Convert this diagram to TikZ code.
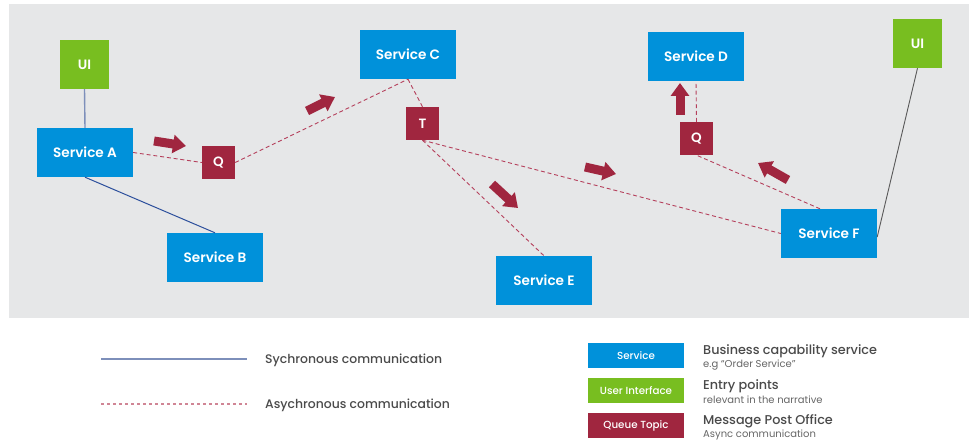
\documentclass[tikz,border=0pt]{standalone}
\usepackage{fontspec}
\setmainfont{Poppins}
\newfontfamily\semibold{Poppins SemiBold}
\newfontfamily\medium{Poppins Medium}
\usetikzlibrary{arrows.meta}

\definecolor{panel}{HTML}{E6E7E8}
\definecolor{svcblue}{HTML}{0091DA}
\definecolor{uigreen}{HTML}{78BE20}
\definecolor{queuered}{HTML}{A0263F}
\definecolor{asyncline}{HTML}{B5405C}
\definecolor{asynclegend}{HTML}{D08595}
\definecolor{synclight}{HTML}{7D8FBA}
\definecolor{syncdark}{HTML}{2C4F9C}
\definecolor{legendtext}{HTML}{4A4A4A}
\definecolor{subtext}{HTML}{666666}

\tikzset{
  box/.style={inner sep=0pt, text=white, font=\semibold\fontsize{13.6}{15}\selectfont},
  service/.style={box, fill=svcblue, minimum width=96pt, minimum height=49pt},
  uibox/.style={box, fill=uigreen, minimum width=49pt, minimum height=49pt},
  queue/.style={box, fill=queuered, minimum width=33pt, minimum height=33pt, font=\semibold\fontsize{13.5}{15}\selectfont},
  async/.style={asyncline, line width=0.9pt, dash pattern=on 4pt off 2.8pt},
  fatarrow/.style={queuered, line width=9pt, -{Triangle[width=18pt,length=13pt]}},
  legbox/.style={inner sep=0pt, text=white, minimum width=96pt, minimum height=25pt, font=\medium\fontsize{10.3}{12}\selectfont},
  legmain/.style={anchor=west, inner sep=0pt, text=legendtext, font=\medium\fontsize{12.4}{14}\selectfont},
  legtitle/.style={anchor=west, inner sep=0pt, text=legendtext, font=\medium\fontsize{12.8}{14}\selectfont},
  legsub/.style={anchor=west, inner sep=0pt, text=subtext, font=\fontsize{10}{11}\selectfont},
}

\begin{document}
\begin{tikzpicture}[x=1pt, y=-1pt]
  \useasboundingbox (0,0) rectangle (972,443);
  \fill[white] (0,0) rectangle (972,443);
  \fill[panel] (9,4) rectangle (969,318);

  % nodes of the architecture
  \node[uibox]   (uiL) at (84.5,64.5)  {UI};
  \node[service] (A)   at (85,152.5)   {Service A};
  \node[service] (B)   at (215,257.5)  {Service B};
  \node[service] (C)   at (408,54.5)   {Service C};
  \node[queue]   (q1)  at (218.5,162.5){Q};
  \node[queue]   (t)   at (422.5,123.5){T};
  \node[service] (D)   at (696,56.5)   {Service D};
  \node[queue]   (q2)  at (696.5,138.5){Q};
  \node[service] (E)   at (544,280.5)  {Service E};
  \node[service] (F)   at (829,233.5)  {Service F};
  \node[uibox]   (uiR) at (917.5,43.5) {UI};

  % synchronous links
  \draw[synclight, line width=1.4pt] (uiL.south) -- (A.north);
  \draw[syncdark, line width=1pt] (A.south) -- (B.north);
  \draw[black!65, line width=0.9pt] ([yshift=-3.5pt]F.east) -- (uiR.south);

  % asynchronous links
  \draw[async] (A.east) -- (q1.west);
  \draw[async] (q1.east) -- (C.south);
  \draw[async] (C.south) -- (t.north);
  \draw[async] (t.south) -- (F.west);
  \draw[async] (t.south) -- (E.north);
  \draw[async] (q2.north) -- (D.south);
  \draw[async] ([xshift=-9pt]F.north) -- (q2.south);

  % direction markers
  \draw[fatarrow] (154,141) -- (186,146);
  \draw[fatarrow] (307,111) -- (335,97);
  \draw[fatarrow] (492,184) -- (518,208);
  \draw[fatarrow] (585,167) -- (616,174);
  \draw[fatarrow] (680,115) -- (680,83);
  \draw[fatarrow] (788,180) -- (758,163);

  % legend: line styles
  \draw[synclight, line width=1.6pt] (101,359) -- (247,359);
  \node[legmain] (legsync) at (265,360.5) {Sychronous communication};
  \draw[asynclegend, line width=1.6pt, dash pattern=on 3pt off 3pt] (101,404) -- (247,404);
  \node[legmain] (legasync) at (265,405) {Asychronous communication};

  % legend: box kinds
  \node[legbox, fill=svcblue]  (kSvc) at (636,355.5) {Service};
  \node[legbox, fill=uigreen]  (kUi)  at (636,390.5) {User Interface};
  \node[legbox, fill=queuered] (kQ)   at (636,425.5) {Queue Topic};

  \node[legtitle] (tSvc) at (703,351) {Business capability service};
  \node[legsub]   (sSvc) at (703,365) {e.g “Order Service”};
  \node[legtitle] (tUi)  at (703,386) {Entry points};
  \node[legsub]   (sUi)  at (703,399.5) {relevant in the narrative};
  \node[legtitle] (tQ)   at (703,421) {Message Post Office};
  \node[legsub]   (sQ)   at (703,434.5) {Async communication};
\end{tikzpicture}
\end{document}
